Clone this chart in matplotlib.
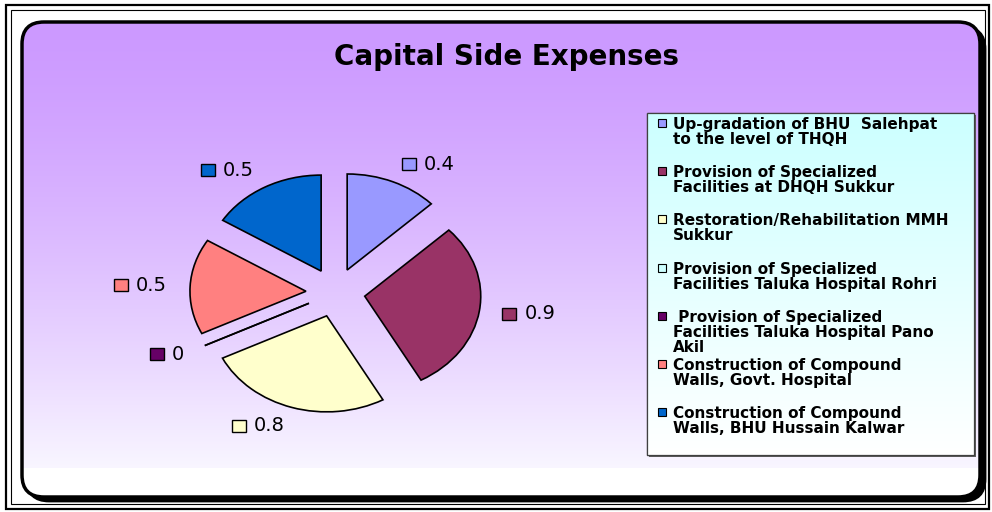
import numpy as np
import matplotlib
matplotlib.use('Agg')
import matplotlib.pyplot as plt
from matplotlib.patches import Rectangle, FancyBboxPatch
from matplotlib.transforms import IdentityTransform, Affine2D

plt.rcParams['font.family'] = ['DejaVu Sans']

# data
projects = [
    'Up-gradation of BHU  Salehpat\nto the level of THQH',
    'Provision of Specialized\nFacilities at DHQH Sukkur',
    'Restoration/Rehabilitation MMH\nSukkur',
    'Provision of Specialized\nFacilities Taluka Hospital Rohri',
    ' Provision of Specialized\nFacilities Taluka Hospital Pano\nAkil',
    'Construction of Compound\nWalls, Govt. Hospital',
    'Construction of Compound\nWalls, BHU Hussain Kalwar',
]
expenses = [0.4, 0.9, 0.8, 0, 0, 0.5, 0.5]
value_labels = ['0.4', '0.9', '0.8', '', '0', '0.5', '0.5']
colors = ['#9999FF', '#993366', '#FFFFCC', '#CCFFFF', '#660066', '#FF8080', '#0066CC']

W, H = 992, 512
fig = plt.figure(figsize=(W / 100, H / 100), dpi=100)

# background layer in pixel coordinates (y going down)
bg = fig.add_axes([0, 0, 1, 1])
bg.set_xlim(0, W)
bg.set_ylim(H, 0)
bg.axis('off')

# double outer frame
bg.add_patch(Rectangle((6, 5), 983, 504, fill=False, ec='black', lw=1.6))
bg.add_patch(Rectangle((11, 10), 974, 494, fill=False, ec='black', lw=0.8))

# rounded chart area with a shadow and purple -> white gradient
bg.add_patch(FancyBboxPatch((27, 27), 958, 474, boxstyle='round,pad=0,rounding_size=22',
                            fc='black', ec='black', lw=2, zorder=1))
area = FancyBboxPatch((22, 22), 958, 475, boxstyle='round,pad=0,rounding_size=22',
                      fc='white', ec='none', zorder=1.1)
bg.add_patch(area)
rows = np.arange(22, 497)
t = np.clip((rows - 22) / (468 - 22), 0, 1) ** 1.4
top, end = np.array([0.80, 0.60, 1.0]), np.array([0.975, 0.965, 1.0])
grad = top[None, :] * (1 - t[:, None]) + end[None, :] * t[:, None]
grad[rows >= 468] = 1.0
im = bg.imshow(grad[:, None, :], extent=(22, 980, 497, 22), aspect='auto', origin='upper',
               interpolation='bilinear', zorder=1.2)
im.set_clip_path(area)
bg.add_patch(FancyBboxPatch((22, 22), 958, 475, boxstyle='round,pad=0,rounding_size=22',
                            fc='none', ec='black', lw=2.5, zorder=1.3))

bg.text(507, 57, 'Capital Side Expenses', ha='center', va='center',
        fontsize=20, fontweight='bold', zorder=2)

# legend box with cyan -> white gradient
bg.add_patch(Rectangle((649, 115), 327, 342, fc='#606060', ec='none', zorder=2.9))
lbox = Rectangle((647, 113), 327, 342, fc='white', ec='#404040', lw=0.9, zorder=3)
bg.add_patch(lbox)
lt = np.linspace(0, 1, 200)
lgrad = np.array([0.8, 1.0, 1.0])[None, :] * (1 - lt[:, None]) + lt[:, None]
lim = bg.imshow(lgrad[:, None, :], extent=(647, 974, 455, 113), aspect='auto',
                origin='upper', zorder=3.1)
lim.set_clip_path(lbox)
bg.add_patch(Rectangle((647, 113), 327, 342, fc='none', ec='#404040', lw=0.9, zorder=3.2))

for i, (lab, col) in enumerate(zip(projects, colors)):
    yc = 123 + i * 48.2
    bg.add_patch(Rectangle((658, yc - 4), 8, 8, fc=col, ec='black', lw=0.8, zorder=4))
    bg.text(673, yc - 6, lab, ha='left', va='top', fontsize=11, fontweight='bold',
            linespacing=1.0, zorder=4)

# pie, stretched horizontally like the original
ax = fig.add_axes([45.5 / W, 27.5 / H, 580 / W, 384 / H])
wedges, texts = ax.pie(expenses, colors=colors, labels=value_labels, startangle=90,
                       counterclock=False, explode=[0.255] * len(expenses),
                       labeldistance=1.2,
                       wedgeprops=dict(edgecolor='black', linewidth=1.2),
                       textprops=dict(fontsize=14))
ax.set_aspect('auto')
ax.set_xlim(-2.5, 2.5)
ax.set_ylim(-2, 2)
ax.axis('off')
ax.patch.set_alpha(0)

# little colour keys in front of the value labels
fig.canvas.draw()
renderer = fig.canvas.get_renderer()
for txt, col in zip(texts, colors):
    if not txt.get_text():
        continue
    if txt.get_ha() == 'left':
        txt.set_transform(txt.get_transform() + Affine2D().translate(22, 0))
    bb = txt.get_window_extent(renderer)
    yc = (bb.y0 + bb.y1) / 2
    fig.add_artist(Rectangle((bb.x0 - 22, yc - 6), 14, 12, transform=IdentityTransform(),
                             fc=col, ec='black', lw=1))

fig.savefig('out.png', dpi=100)
